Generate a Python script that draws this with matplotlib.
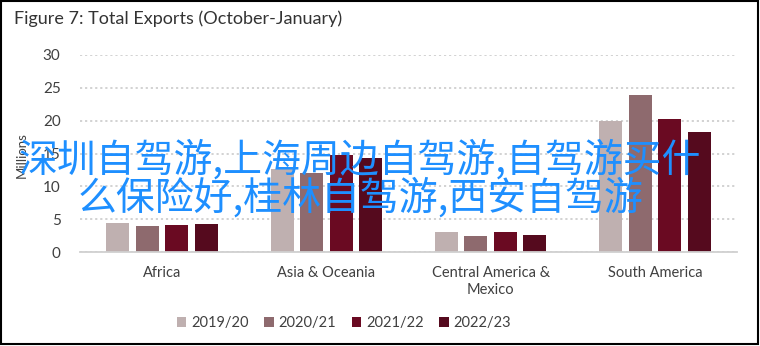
import matplotlib
matplotlib.use("Agg")
import matplotlib.pyplot as plt
import numpy as np
from matplotlib.patches import Rectangle

categories = ["Africa", "Asia & Oceania", "Central America &\nMexico", "South America"]
series_names = ["2019/20", "2020/21", "2021/22", "2022/23"]
v2019 = [4.4, 12.6, 3.1, 20.0]
v2020 = [4.0, 12.1, 2.4, 23.9]
v2021 = [4.1, 14.8, 3.0, 20.2]
v2022 = [4.2, 14.3, 2.6, 18.3]
yticks = [0, 5, 10, 15, 20, 25, 30]
colors = ["#BFB0B0", "#8E6A6E", "#6A0A22", "#550A1E"]
title = "Figure 7: Total Exports (October-January)"
watermark1 = "深圳自驾游,上海周边自驾游,自驾游买什"
watermark2 = "么保险好,桂林自驾游,西安自驾游"

plt.rcParams['font.family'] = ['Lato', 'DejaVu Sans']

W, H = 760, 346
fig = plt.figure(figsize=(W / 100, H / 100), dpi=100)
ax = fig.add_axes([80 / W, 1 - 252 / H, (737 - 80) / W, (252 - 55) / H])

x = np.arange(len(categories))
slot = 0.18
bw = 0.14
for i, (vals, name, c) in enumerate(zip([v2019, v2020, v2021, v2022], series_names, colors)):
    ax.bar(x + (i - 1.5) * slot, vals, width=bw, color=c, label=name, zorder=3)

ax.set_xlim(-0.5, len(categories) - 0.5)
ax.set_ylim(0, 30)
ax.set_yticks(yticks)
ax.set_xticks(x)
ax.set_xticklabels(categories, fontsize=10.5, color="#404040", linespacing=1.3)
ax.tick_params(axis='y', labelsize=11, labelcolor="#404040", length=0, pad=14)
ax.tick_params(axis='x', length=0, pad=10)
for s in ["top", "right", "left"]:
    ax.spines[s].set_visible(False)
ax.spines["bottom"].set_color("#D0D0D0")
ax.spines["bottom"].set_linewidth(1.3)
ax.spines["bottom"].set_zorder(4)
ax.yaxis.grid(True, color="#CFCFCF", linestyle=(0, (1.2, 1.6)), linewidth=1.3, zorder=0)
ax.set_axisbelow(True)

fig.text(22 / W, 1 - 155 / H, "Millions", rotation=90, ha="center", va="center",
         fontsize=9.5, color="#404040")

fig.text(14 / W, 1 - 19 / H, title, ha="left", va="center", fontsize=13, color="#333333")

handles, labels = ax.get_legend_handles_labels()
fig.legend(handles, labels, loc="center", bbox_to_anchor=(344 / W, 1 - 323 / H), ncol=4,
           frameon=False, fontsize=10.5, handlelength=0.65, handleheight=0.65,
           handletextpad=0.35, columnspacing=1.05, labelcolor="#404040")

wm_font = ['Noto Sans CJK SC', 'DejaVu Sans']
fig.text(360 / W, 1 - 160 / H, watermark1, ha="center", va="center", fontsize=28,
         color="#1E8FFF", family=wm_font, zorder=10)
fig.text(360 / W, 1 - 198 / H, watermark2, ha="center", va="center", fontsize=28,
         color="#1E8FFF", family=wm_font, zorder=10)

fig.add_artist(Rectangle((0.7 / W, 1 - 344 / H), 757 / W, (344 - 0.7) / H,
                         transform=fig.transFigure, fill=False, edgecolor="black",
                         linewidth=1.5))

fig.savefig("out.png", dpi=100)
